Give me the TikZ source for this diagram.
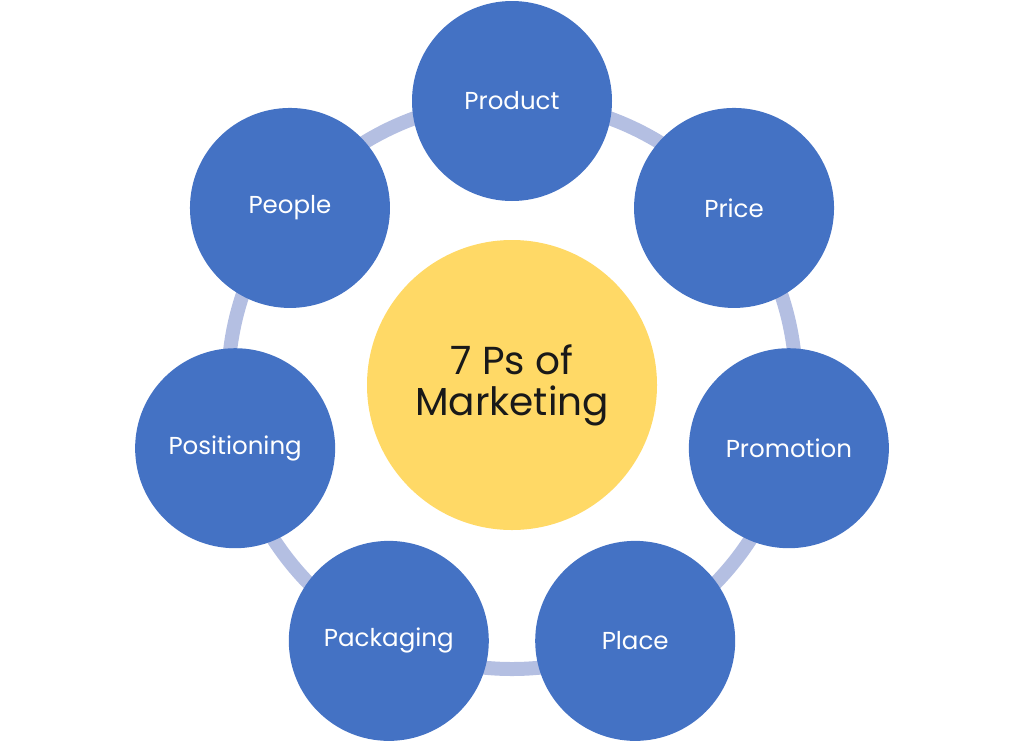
\documentclass[tikz,border=0pt]{standalone}
\usepackage{fontspec}
\setmainfont{Poppins}
\usetikzlibrary{calc}
\definecolor{pblue}{HTML}{4472C4}
\definecolor{pyellow}{HTML}{FFD966}
\definecolor{pring}{HTML}{B4BFE2}
\begin{document}
\begin{tikzpicture}[x=1pt,y=-1pt,
  pcircle/.style={circle,fill=pblue,minimum size=200pt,inner sep=0pt,text=white,font=\fontsize{24.5}{28}\selectfont},
  ccircle/.style={circle,fill=pyellow,minimum size=290pt,inner sep=0pt,text=black!90,align=center,font=\fontsize{39}{41}\selectfont}]
\useasboundingbox (0,0) rectangle (1024,742);
\coordinate (c) at (512,385);
\draw[pring,line width=14pt] (c) circle[radius=284];
\node[ccircle] (center) at (c) {7 Ps of\\Marketing};
\node[pcircle] (product) at ($(c)+(-90:284)$) {Product};
\node[pcircle] (price) at ($(c)+(-38.57:284)$) {Price};
\node[pcircle] (promotion) at ($(c)+(12.86:284)$) {Promotion};
\node[pcircle] (place) at ($(c)+(64.29:284)$) {Place};
\node[pcircle] (packaging) at ($(c)+(115.71:284)$) {Packaging};
\node[pcircle] (positioning) at ($(c)+(167.14:284)$) {Positioning};
\node[pcircle] (people) at ($(c)+(218.57:284)$) {People};
\end{tikzpicture}
\end{document}
